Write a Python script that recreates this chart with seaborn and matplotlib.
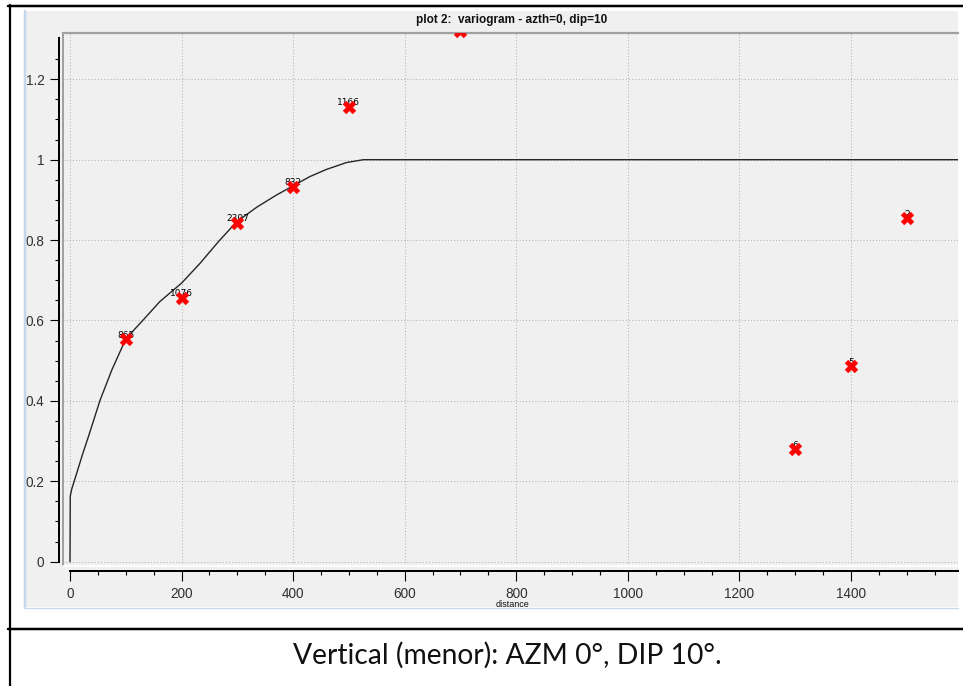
import matplotlib
matplotlib.use("Agg")
import matplotlib.pyplot as plt
import seaborn as sns
import pandas as pd
from matplotlib.patches import Rectangle
from matplotlib.lines import Line2D
from matplotlib.ticker import FixedLocator

# ---------------- data ----------------
lag_distance = [100, 200, 300, 400, 500, 700, 1300, 1400, 1500]
lag_gamma = [0.553, 0.656, 0.843, 0.933, 1.132, 1.32, 0.280, 0.486, 0.854]
lag_pairs = ["865", "1076", "2307", "832", "1166", "", "6", "5", "2"]

model_distance = [0, 0.5, 3, 12, 22, 33, 54, 75, 99, 115, 131, 161, 200, 233, 266,
                  299, 335, 370, 400, 430, 460, 496, 526, 1600]
model_gamma = [0.0, 0.163, 0.180, 0.220, 0.265, 0.311, 0.402, 0.477, 0.551, 0.577,
               0.601, 0.647, 0.693, 0.742, 0.796, 0.846, 0.882, 0.912, 0.935, 0.958,
               0.976, 0.993, 1.0, 1.0]

x_ticks = [0, 200, 400, 600, 800, 1000, 1200, 1400]
x_tick_labels = ["0", "200", "400", "600", "800", "1000", "1200", "1400"]
x_minor = [50, 100, 150, 250, 300, 350, 450, 500, 550, 650, 700, 750, 850, 900,
           950, 1050, 1100, 1150, 1250, 1300, 1350, 1450, 1500, 1550]
y_ticks = [0, 0.2, 0.4, 0.6, 0.8, 1.0, 1.2]
y_tick_labels = ["0", "0.2", "0.4", "0.6", "0.8", "1", "1.2"]
y_minor = [0.05, 0.1, 0.15, 0.25, 0.3, 0.35, 0.45, 0.5, 0.55, 0.65, 0.7, 0.75,
           0.85, 0.9, 0.95, 1.05, 1.1, 1.15, 1.25]

title = "plot 2:  variogram - azth=0, dip=10"
x_label = "distance"
caption = "Vertical (menor): AZM 0°, DIP 10°."

# ---------------- figure ----------------
W, H = 963, 686
sns.set_theme(style="white")
plt.rcParams["font.family"] = ["Liberation Sans", "DejaVu Sans"]

fig = plt.figure(figsize=(W / 100, H / 100), dpi=100)
fig.patch.set_facecolor("white")


def fx(px):
    return px / W


def fy(py):
    return 1 - py / H


def lw(px):
    return px * 0.72


# screenshot panel background
fig.add_artist(Rectangle((fx(24), fy(607)), fx(958) - fx(24), fy(11) - fy(607),
                         transform=fig.transFigure, facecolor="#f0f0f0",
                         edgecolor="none", zorder=-5))

ax = fig.add_axes([fx(63.3), fy(566), fx(957.7) - fx(63.3), fy(33.3) - fy(566)])
ax.set_facecolor("#f0f0f0")
ax.set_xlim(-12.0, 1591.3)
ax.set_ylim(-0.0107, 1.3144)
ax.set_axisbelow(True)

model_df = pd.DataFrame({"distance": model_distance, "gamma": model_gamma})
lag_df = pd.DataFrame({"distance": lag_distance, "gamma": lag_gamma, "pairs": lag_pairs})

sns.lineplot(data=model_df, x="distance", y="gamma", ax=ax, color="#262626",
             linewidth=1.0, sort=False, estimator=None, zorder=2)
for d, g, n in zip(lag_df["distance"], lag_df["gamma"], lag_df["pairs"]):
    ax.annotate(n, (d, g), xytext=(0, -0.3), textcoords="offset points",
                ha="center", va="bottom", fontsize=6.5, color="black",
                family="DejaVu Sans", zorder=3)
sns.scatterplot(data=lag_df, x="distance", y="gamma", ax=ax, marker="X", s=85,
                color="#ff0000", edgecolor="#ff0000", linewidth=0.3, zorder=4,
                legend=False)

ax.set_xlabel("")
ax.set_ylabel("")

# grid
ax.grid(True, which="major", color="#b4b4b4", linestyle=(0, (1, 2)), linewidth=0.75)

# ticks
ax.set_xticks(x_ticks, labels=x_tick_labels)
ax.set_yticks(y_ticks, labels=y_tick_labels)
ax.xaxis.set_minor_locator(FixedLocator(x_minor))
ax.yaxis.set_minor_locator(FixedLocator(y_minor))
ax.tick_params(axis="x", which="major", direction="out", length=lw(9.5), width=0.8,
               color="black", pad=4.5, labelsize=9.8, labelcolor="#303030",
               bottom=True)
ax.tick_params(axis="x", which="minor", direction="out", length=lw(4), width=0.8,
               color="black", bottom=True)
ax.tick_params(axis="y", which="major", direction="out", length=lw(9.5), width=0.8,
               color="black", pad=3.8, labelsize=9.8, labelcolor="#303030",
               left=True)
ax.tick_params(axis="y", which="minor", direction="out", length=lw(4.5), width=0.8,
               color="black", left=True)
minor_ticks = ax.xaxis.get_minor_ticks(len(x_minor))
for t, loc in zip(minor_ticks, x_minor):
    if loc % 100 == 0:
        t.tick1line.set_markersize(lw(7.5))

# spines
for side in ("left", "bottom"):
    ax.spines[side].set_color("black")
    ax.spines[side].set_linewidth(lw(2))
ax.spines["left"].set_position(("outward", 2.9))
ax.spines["left"].set_bounds(0, 1.303)
ax.spines["bottom"].set_position(("outward", 3.6))
ax.spines["bottom"].set_bounds(0, 1591.3)
ax.spines["right"].set_visible(False)
ax.spines["top"].set_color("#a0a0a0")
ax.spines["top"].set_linewidth(lw(2.2))

# plot-area frame pieces
ax.add_line(Line2D([0, 0], [0, 1], transform=ax.transAxes, color="#a0a0a0",
                   linewidth=lw(2), clip_on=False, zorder=5))
ax.add_line(Line2D([0, 1], [0, 0], transform=ax.transAxes, color="white",
                   linewidth=lw(1.8), clip_on=False, zorder=5))

# texts
fig.text(fx(511.5), fy(20.5), title, ha="center", va="center", fontsize=8.5,
         fontweight="bold", color="#111111")
fig.text(fx(513), fy(604.5), x_label, ha="center", va="center", fontsize=6.5,
         color="#111111")

# overlays: page/table borders and panel edge
fig.add_artist(Rectangle((0, 0), fx(23.5), 1, transform=fig.transFigure,
                         facecolor="white", edgecolor="none", zorder=10))
fig.add_artist(Line2D([fx(24.8), fx(24.8)], [fy(11), fy(607)], transform=fig.transFigure,
                      color="#c3d8ee", linewidth=lw(2.5), zorder=11))
fig.add_artist(Line2D([fx(24), fx(958)], [fy(607.5), fy(607.5)], transform=fig.transFigure,
                      color="#c3d8ee", linewidth=lw(1.2), zorder=11))
fig.add_artist(Line2D([fx(8), 1], [fy(6), fy(6)], transform=fig.transFigure,
                      color="black", linewidth=lw(2.5), zorder=12))
fig.add_artist(Line2D([fx(9.5), fx(9.5)], [fy(5), 0], transform=fig.transFigure,
                      color="black", linewidth=lw(2.2), zorder=12))
fig.add_artist(Line2D([fx(8), 1], [fy(629), fy(629)], transform=fig.transFigure,
                      color="black", linewidth=lw(2.5), zorder=12))

fig.text(fx(507), fy(655), caption, ha="center", va="center", fontsize=20.3,
         family=["Lato", "DejaVu Sans"], color="#111111")

fig.savefig("out.png", dpi=100, facecolor="white")
